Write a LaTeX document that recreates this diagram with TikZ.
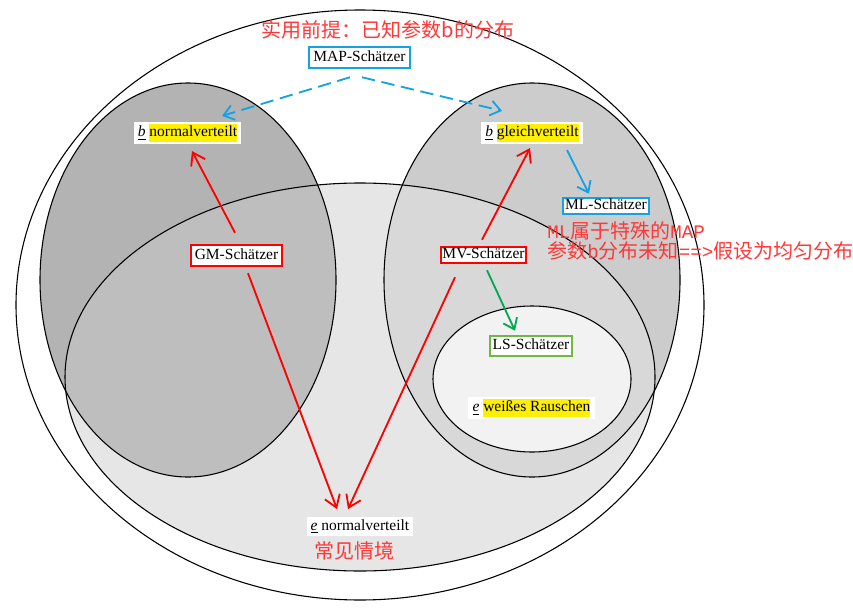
\documentclass[tikz,border=0pt]{standalone}
\usepackage{fontspec}
\setmainfont{Liberation Serif}
\newfontfamily\cjk{Noto Sans CJK SC}
\newfontfamily\cjkmono{Liberation Mono}
\usetikzlibrary{arrows.meta,calc}
\definecolor{mapblue}{RGB}{20,162,226}
\definecolor{boxred}{RGB}{255,0,0}
\definecolor{lsgreen}{RGB}{112,184,70}
\definecolor{arrgreen}{RGB}{0,168,80}
\definecolor{notered}{RGB}{255,55,55}
\definecolor{hlyellow}{RGB}{255,240,0}
\definecolor{gleft}{RGB}{179,179,179}
\definecolor{gright}{RGB}{204,204,204}
\definecolor{glight}{RGB}{230,230,230}
\definecolor{gleftov}{RGB}{190,190,190}
\definecolor{grightov}{RGB}{216,216,216}
\definecolor{ginner}{RGB}{242,242,242}
\newcommand{\hlt}[1]{{\setlength{\fboxsep}{0pt}\colorbox{hlyellow}{\strut #1}}}
\newcommand{\ulv}[1]{\underline{\textit{#1}}}
\newcommand{\mlatin}[1]{{\cjkmono\fontsize{11.5}{12}\selectfont #1}}
\begin{document}
\begin{tikzpicture}[x=0.6pt,y=-0.6pt,
  estbox/.style={draw, line width=1.1pt, fill=white, inner sep=0.5pt,
    font=\fontsize{9.3}{10.5}\selectfont, text height=6.8pt, text depth=2.2pt},
  lbl/.style={fill=white, inner xsep=2.5pt, inner ysep=1.2pt,
    font=\fontsize{9.3}{10.5}\selectfont},
  cjktext/.style={text=notered, inner sep=0pt, font=\cjk\fontsize{12}{12}\selectfont},
  redarr/.style={boxred, line width=1.1pt, -{Straight Barb[length=7pt,width=9.5pt]}},
  bluearr/.style={mapblue, line width=1.1pt, -{Straight Barb[length=6pt,width=9pt]}},
  bluedash/.style={bluearr, dash pattern=on 8pt off 4pt},
  greenarr/.style={arrgreen, line width=1.1pt, -{Straight Barb[length=6pt,width=9pt]}},
  ell/.style={line width=0.65pt}
]
\useasboundingbox (0,0) rectangle (853,608);
% outer ellipse
\draw[ell, fill=white] (360,305) ellipse [x radius=206.4pt, y radius=177pt];
% fills
\fill[gleft] (188,280) ellipse [x radius=88.8pt, y radius=118.2pt];
\fill[gright] (532,280) ellipse [x radius=88.8pt, y radius=118.2pt];
\fill[glight] (360,377) ellipse [x radius=177pt, y radius=116.4pt];
\begin{scope}
  \clip (360,377) ellipse [x radius=177pt, y radius=116.4pt];
  \fill[gleftov] (188,280) ellipse [x radius=88.8pt, y radius=118.2pt];
  \fill[grightov] (532,280) ellipse [x radius=88.8pt, y radius=118.2pt];
\end{scope}
% outlines
\draw[ell] (188,280) ellipse [x radius=88.8pt, y radius=118.2pt];
\draw[ell] (532,280) ellipse [x radius=88.8pt, y radius=118.2pt];
\draw[ell] (360,377) ellipse [x radius=177pt, y radius=116.4pt];
\draw[ell, fill=ginner] (532,379) ellipse [x radius=59.4pt, y radius=43.8pt];

% texts
\node[cjktext] (premise) at (388,30) {实用前提：已知参数b的分布};
\node[estbox, draw=mapblue, minimum width=61pt, minimum height=13pt] (map) at (359.5,57.5) {MAP-Schätzer};
\node[lbl] (bn) at (187.5,133) {\ulv{b} \hlt{normalverteilt}};
\node[lbl] (bg) at (532,133) {\ulv{b} \hlt{gleichverteilt}};
\node[estbox, draw=mapblue, minimum width=52pt, minimum height=9.4pt] (ml) at (606,206) {ML-Schätzer};
\node[cjktext, anchor=west, align=left] (mlnote) at (547,241)
  {\mlatin{ML}属于特殊的\mlatin{MAP}\\
   参数\mlatin{b}分布未知\mlatin{==>}假设为均匀分布};
\node[estbox, draw=boxred, minimum width=55pt, minimum height=13pt] (gm) at (236.5,255.5) {GM-Schätzer};
\node[estbox, draw=boxred, minimum width=51.4pt, minimum height=10pt] (mv) at (483.5,255) {MV-Schätzer};
\node[estbox, draw=lsgreen, minimum width=49.6pt, minimum height=12.4pt] (ls) at (531,346) {LS-Schätzer};
\node[lbl] (wr) at (531.5,408) {\ulv{e} \hlt{weißes Rauschen}};
\node[lbl] (en) at (360,526.5) {\ulv{e} normalverteilt};
\node[cjktext] (common) at (354,551) {常见情境};

% connectors
\draw[bluedash] ($(map.south)+(-9.5,8)$) -- ($(bn.north)+(34.5,-6)$);
\draw[bluedash] ($(map.south)+(2.5,8)$) -- ($(bg.north)+(-30,-11)$);
\draw[bluearr] ($(bg.south)+(35,6)$) -- ($(ml.north)+(-17,-3)$);
\draw[redarr] ($(gm.north)+(-1.5,-11)$) -- ($(bn.south)+(4.5,7)$);
\draw[redarr] ($(gm.south)+(11.5,6)$) -- ($(en.north)+(-23,-8)$);
\draw[redarr] ($(mv.north)+(-1.5,-6)$) -- ($(bg.south)+(-2,4)$);
\draw[redarr] ($(mv.south)+(-28.5,13)$) -- ($(en.north)+(-12,-8)$);
\draw[greenarr] ($(mv.south)+(3.5,6)$) -- ($(ls.north)+(-16,-4)$);
\end{tikzpicture}
\end{document}
